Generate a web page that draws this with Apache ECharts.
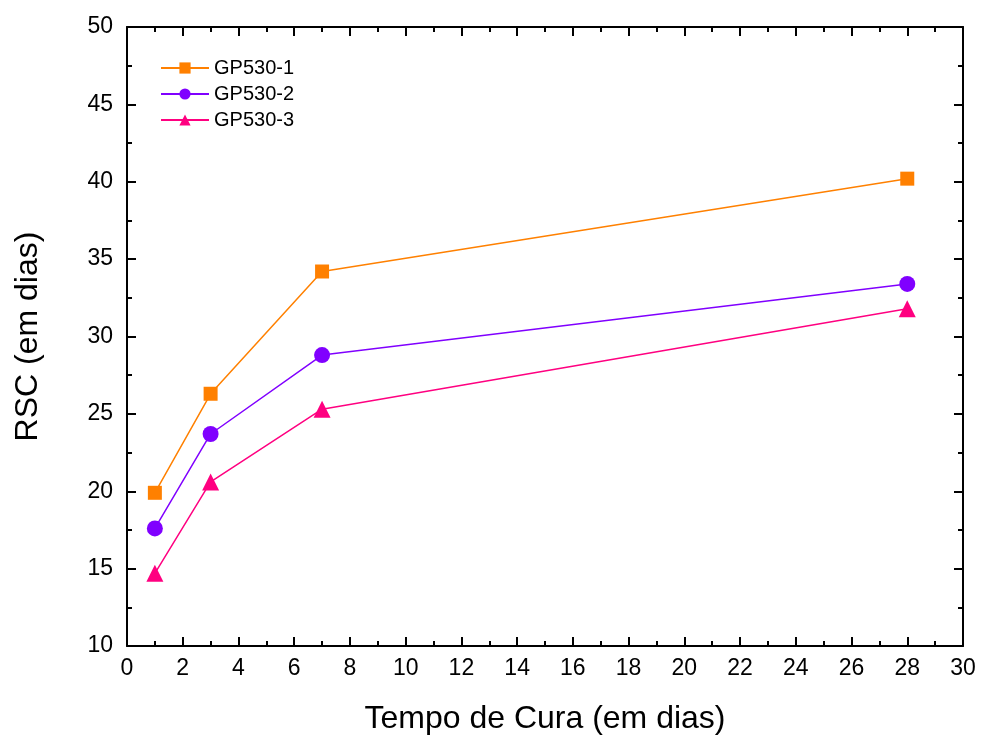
<!DOCTYPE html>
<html><head><meta charset="utf-8">
<script src="https://cdn.jsdelivr.net/npm/echarts@6/dist/echarts.min.js"></script>
<style>html,body{margin:0;padding:0;background:#fff}#c{width:985px;height:740px}</style>
</head><body><div id="c"></div>
<script>
const days = [1, 3, 7, 28];
const gp1 = [19.9, 26.3, 34.2, 40.2];
const gp2 = [17.6, 23.7, 28.8, 33.4];
const gp3 = [14.7, 20.6, 25.3, 31.8];
const seriesNames = ['GP530-1', 'GP530-2', 'GP530-3'];
const colors = ['#FF8000', '#8000FF', '#FF0080'];
const symbols = ['rect', 'circle', 'triangle'];
const symbolSizes = [14, 16, 17];
const values = [gp1, gp2, gp3];

const font = 'Liberation Sans, Arial, sans-serif';
const chart = echarts.init(document.getElementById('c'));
const axisLine = {show: true, onZero: false, lineStyle: {color: '#000', width: 2}};
const tick = {show: true, inside: true, length: 9, lineStyle: {color: '#000', width: 2}};
const minor = {show: true, splitNumber: 2, length: 5, lineStyle: {color: '#000', width: 2}};
chart.setOption({
  animation: false,
  grid: {left: 127, right: 22, top: 27, bottom: 92},
  legend: {
    left: 155, top: 53, orient: 'vertical', itemGap: 6, itemWidth: 48, itemHeight: 14,
    textStyle: {fontFamily: font, fontSize: 20, color: '#000'},
    data: seriesNames
  },
  xAxis: [{
    type: 'value', min: 0, max: 30, interval: 2, position: 'bottom',
    name: 'Tempo de Cura (em dias)', nameLocation: 'middle', nameGap: 57,
    nameTextStyle: {fontFamily: font, fontSize: 32, color: '#000'},
    axisLine: axisLine, axisTick: tick, minorTick: minor, splitLine: {show: false},
    axisLabel: {fontFamily: font, fontSize: 23, color: '#000', margin: 11}
  }, {
    type: 'value', min: 0, max: 30, interval: 2, position: 'top',
    axisLine: axisLine, axisTick: tick, minorTick: minor, splitLine: {show: false},
    axisLabel: {show: false}
  }],
  yAxis: [{
    type: 'value', min: 10, max: 50, interval: 5, position: 'left',
    name: 'RSC (em dias)', nameLocation: 'middle', nameGap: 83, nameRotate: 90,
    nameTextStyle: {fontFamily: font, fontSize: 32, color: '#000'},
    axisLine: axisLine, axisTick: tick, minorTick: minor, splitLine: {show: false},
    axisLabel: {fontFamily: font, fontSize: 23, color: '#000', margin: 14}
  }, {
    type: 'value', min: 10, max: 50, interval: 5, position: 'right',
    axisLine: axisLine, axisTick: tick, minorTick: minor, splitLine: {show: false},
    axisLabel: {show: false}
  }],
  series: values.map((v, i) => ({
    name: seriesNames[i], type: 'line',
    data: days.map((d, j) => [d, v[j]]),
    symbol: symbols[i], symbolSize: symbolSizes[i], showAllSymbol: true,
    itemStyle: {color: colors[i]},
    lineStyle: {color: colors[i], width: 1.5}
  }))
});
</script></body></html>
